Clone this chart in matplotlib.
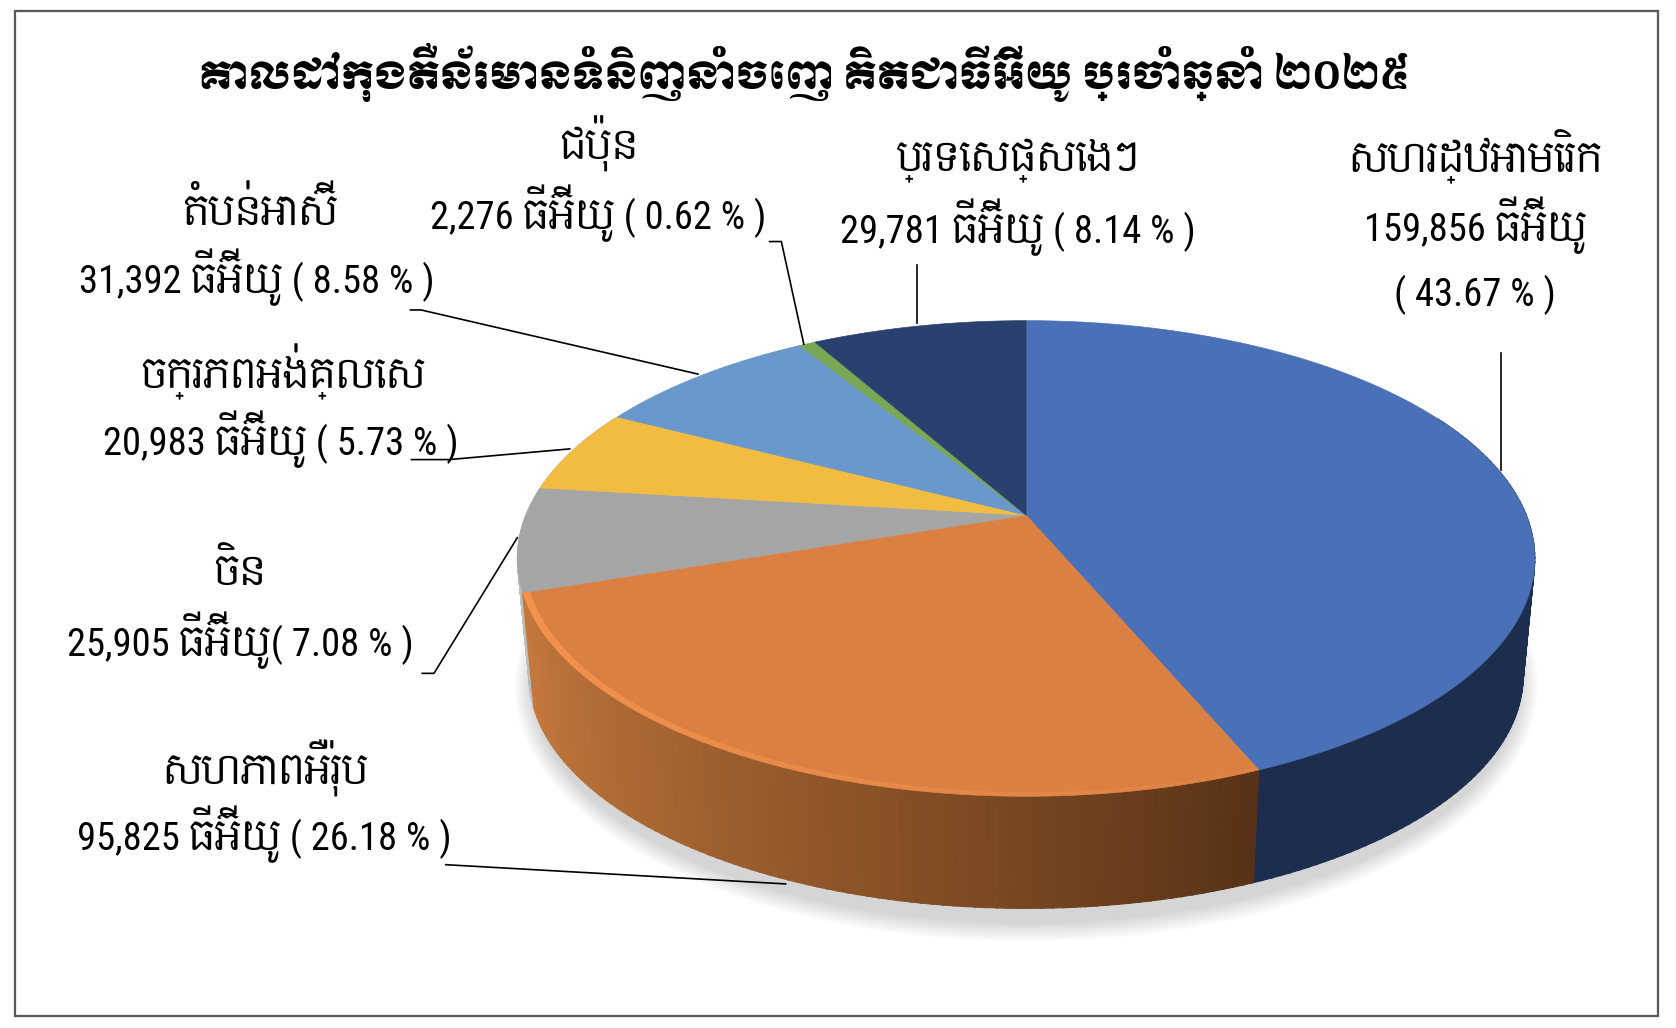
"""3D style pie of 2025 container export destinations."""
import matplotlib
matplotlib.use("Agg")
import matplotlib.pyplot as plt
import numpy as np
from matplotlib.collections import LineCollection
from matplotlib.colors import to_rgb
from matplotlib.patches import Ellipse, Rectangle
from matplotlib import font_manager as fm

TITLE = "គោលដៅកុងតឺន័រមានទំនិញនាំចេញ គិតជាធីអ៊ីយូ ប្រចាំឆ្នាំ ២០២៥"
UNIT = "ធីអ៊ីយូ"
regions = ["សហរដ្ឋអាមេរិក", "សហភាពអឺរ៉ុប", "ចិន", "ចក្រភពអង់គ្លេស", "តំបន់អាស៊ី", "ជប៉ុន", "ប្រទេសផ្សេងៗ"]
teu = [159856, 95825, 25905, 20983, 31392, 2276, 29781]
percent = ["43.67", "26.18", "7.08", "5.73", "8.58", "0.62", "8.14"]

colors = ["#4A70B8", "#DA8043", "#A5A5A5", "#F2BC40", "#6A98CD", "#78A853", "#2A4170"]
side_colors = ["#1D2D4E", None, "#BDBDBD", "#BDBDBD", "#6A98CD", "#78A853", "#2A4170"]

# drawing space is the reference scaled to 1568 wide
W, H = 1568, 961.8
APEX_X, APEX_Y = 960, 482
PERSP = -81 / 445
SCALE_X = 468
SCALE_Y = 127.4
DEPTH = 110
SHRINK = 0.977
MID_Y = 522

# centre x, y of the name line and of the value line
label_pos = [
    ((1380, 147), (1380, 211)),
    ((248, 718), (247, 781)),
    ((224, 535), (225, 599)),
    ((265, 348), (263, 411)),
    ((243, 197), (240, 259)),
    ((560, 135), (560, 200)),
    ((952, 150), (952, 213)),
]
leaders = [
    [(1404, 330), (1404, 440)],
    [(417, 809), (735, 827)],
    [(395, 630), (406, 630), (484, 503)],
    [(385, 430), (420, 430), (533, 420)],
    [(384, 290), (394, 290), (653, 350)],
    [(720, 226), (731, 226), (752, 322)],
    [(858, 248), (858, 302)],
]

installed = {f.name for f in fm.fontManager.ttflist}
narrow = [n for n in ["Liberation Sans Narrow", "Roboto Condensed", "Archivo Narrow", "PT Sans Narrow"]
          if n in installed]
LABEL_FONT = narrow[:1] + ["Content", "DejaVu Sans"]


def top_edge(turn):
    # turn is the clockwise angle from the back of the pie, in radians
    u, p = np.sin(turn), -np.cos(turn)
    w = 1 + PERSP * p
    return APEX_X + SCALE_X * u / w, (SCALE_Y * p + APEX_Y) / w


def bottom_edge(turn):
    x, y = top_edge(turn)
    return APEX_X + (x - APEX_X) * SHRINK, MID_Y + (y - MID_Y) * SHRINK + DEPTH


def draw_side(ax, a0, a1, color, dark=None):
    # the wall is swept in strips, the part behind the top face gets covered later
    a0, a1 = max(a0, np.pi * 0.35), min(a1, np.pi * 1.65)
    if a1 <= a0:
        return
    edges = np.linspace(a0, a1, 90)
    for i in range(len(edges) - 1):
        t = np.array([edges[i], edges[i + 1] + 0.004])
        xt, yt = top_edge(t)
        xb, yb = bottom_edge(t)
        c = to_rgb(color)
        if dark is not None:
            # light on the left end of the slice, dark on the right
            f = 1 - (i / (len(edges) - 2))
            c = np.array(to_rgb(color)) + (np.array(to_rgb(dark)) - np.array(to_rgb(color))) * f ** 1.2
        ax.fill(np.r_[xt, xb[::-1]], np.r_[yt, yb[::-1]], color=c, lw=0.5, zorder=3)


fig = plt.figure(figsize=(1676 / 150, 1028 / 150), dpi=150)
ax = fig.add_axes([0, 0, 1, 1])
ax.set_xlim(0, W)
ax.set_ylim(H, 0)
ax.axis("off")

ax.add_patch(Rectangle((14.5, 10.5), 1537, 940, fill=False, ec="#5A5A5A", lw=1.1, zorder=1))

# soft shadow under the pie
for grow in np.linspace(17, 0, 14):
    ax.add_patch(Ellipse((960, 642), 2 * (462 + grow), 2 * (222 + grow),
                         color="black", alpha=0.013, lw=0, zorder=2))

shares = np.array(teu) / sum(teu)
angles = np.r_[0, np.cumsum(shares)] * 2 * np.pi

# walls, the two big front slices last
for i in [6, 5, 4, 3, 2, 0]:
    draw_side(ax, angles[i], angles[i + 1], side_colors[i])
draw_side(ax, angles[1], angles[2], "#C4783C", dark="#583216")

faces = []
for i, (a0, a1) in enumerate(zip(angles[:-1], angles[1:])):
    x, y = top_edge(np.linspace(a0, a1, 160))
    faces.append(ax.fill(np.r_[APEX_X, x], np.r_[APEX_Y, y], color=colors[i], lw=0.3, zorder=4)[0])

# bevel highlight along the orange rim, stronger on the left
t = np.linspace(angles[1], angles[2], 120)
x, y = top_edge(t)
pts = np.c_[x, y]
segs = np.stack([pts[:-1], pts[1:]], axis=1)
fade = (t[:-1] - angles[1]) / (angles[2] - angles[1])
rim = LineCollection(segs, colors=[(0.96, 0.58, 0.30, a) for a in 0.15 + 0.85 * fade],
                     linewidths=3 + 4 * fade, zorder=5)
ax.add_collection(rim)
rim.set_clip_path(faces[1])

for path in leaders:
    xs, ys = zip(*path)
    ax.plot(xs, ys, color="black", lw=0.8, zorder=6)

ax.text(752, 68, TITLE, family=["Moul", "DejaVu Sans"], fontsize=18, ha="center", va="center",
        color="black", zorder=7)

for i, name in enumerate(regions):
    name_xy, value_xy = label_pos[i]
    ax.text(*name_xy, name, family=LABEL_FONT, fontsize=18.5, ha="center", va="center", zorder=7)
    if i == 0:
        ax.text(*value_xy, f"{teu[i]:,} {UNIT}", family=LABEL_FONT, fontsize=18.5,
                ha="center", va="center", zorder=7)
        ax.text(1380, 276, f"( {percent[i]} % )", family=LABEL_FONT, fontsize=18.5,
                ha="center", va="center", zorder=7)
    else:
        gap = "" if i == 2 else " "
        ax.text(*value_xy, f"{teu[i]:,} {UNIT}{gap}( {percent[i]} % )", family=LABEL_FONT,
                fontsize=18.5, ha="center", va="center", zorder=7)

fig.savefig("out.png", dpi=150)
plt.close(fig)
